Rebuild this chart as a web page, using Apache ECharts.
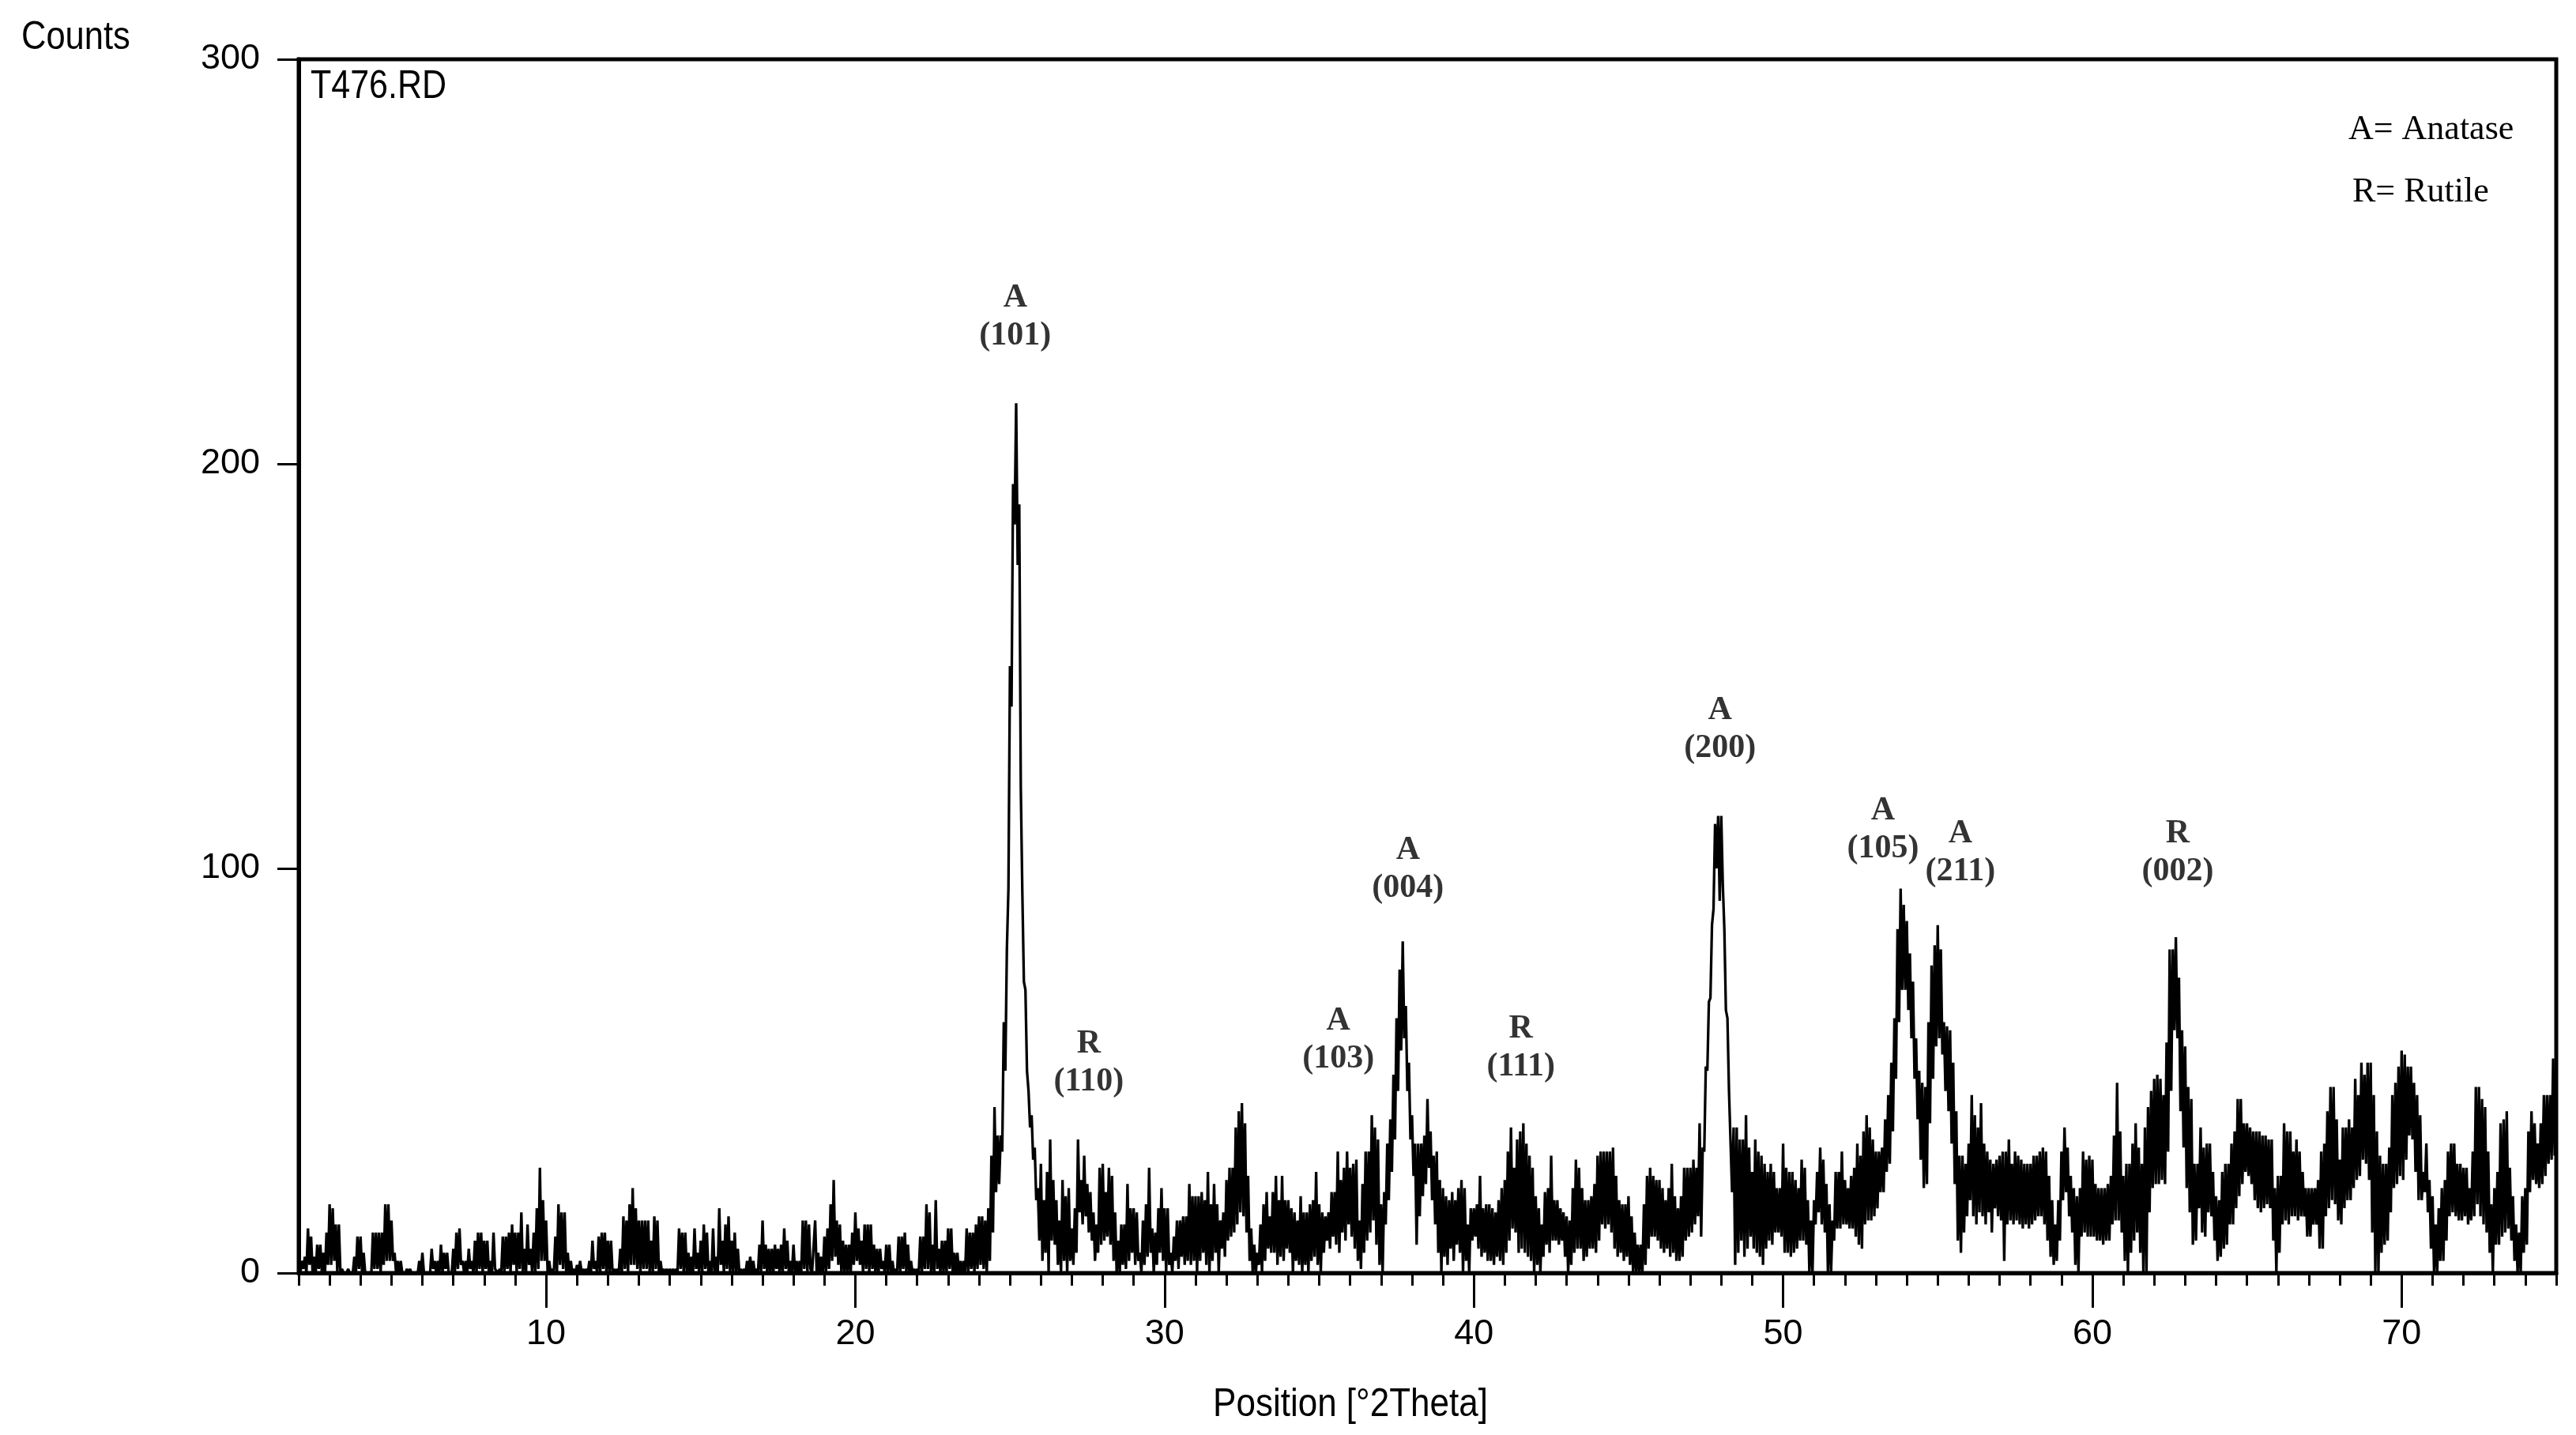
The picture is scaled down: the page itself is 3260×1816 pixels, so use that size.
<!DOCTYPE html>
<html><head><meta charset="utf-8">
<script src="https://cdn.jsdelivr.net/npm/echarts@6/dist/echarts.min.js"></script>
<style>html,body{margin:0;padding:0;background:#fff}#c{width:3260px;height:1816px}</style>
</head><body><div id="c"></div>
<script>
// scan grid (°2Theta)
const thetaStart = 2.0;
const thetaStep = 0.1;
// local maxima of the noisy trace, one per 0.1° from 2.0 to 75.0
const countsPeak = [
3,3,4,11,9,4,7,7,5,10,
17,16,12,12,1,0,1,0,4,9,
9,5,0,0,10,10,10,10,17,17,
13,5,3,3,0,1,1,0,0,3,
5,0,0,6,3,3,7,5,5,0,
6,10,11,3,3,6,3,8,10,10,
8,8,3,10,1,1,9,9,10,12,
10,10,15,6,12,6,10,16,26,18,
13,3,1,9,17,15,15,5,3,1,
2,3,1,1,3,8,3,9,10,10,
8,8,1,1,6,14,13,17,21,16,
13,13,13,13,8,14,13,3,1,1,
1,1,1,11,10,10,5,4,11,5,
8,12,10,3,11,4,16,8,12,14,
8,10,6,1,1,3,4,3,1,7,
13,7,6,6,7,6,7,11,8,3,
7,3,3,13,13,12,0,13,5,4,
9,11,17,23,13,12,8,7,7,10,
15,11,8,12,12,12,7,6,6,3,
7,7,3,1,9,9,10,7,3,1,
1,9,9,17,15,7,18,6,8,8,
11,11,5,5,3,3,11,10,10,12,
14,14,13,16,29,41,34,34,62,80,
150,195,215,190,94,70,45,39,31,21,
27,18,25,33,23,18,13,23,19,21,
11,16,33,23,29,22,20,15,12,26,
27,20,26,24,15,8,12,12,22,16,
16,15,5,13,17,26,11,10,16,21,
16,16,5,9,13,13,14,14,22,19,
19,19,20,18,25,17,22,17,13,15,
23,26,26,36,40,42,37,24,11,7,
5,12,17,20,14,20,24,18,24,18,
18,16,15,13,19,15,15,17,18,25,
17,15,14,15,20,20,30,23,26,30,
26,27,28,13,22,30,30,39,36,33,
17,20,32,38,49,63,75,82,66,52,
39,32,32,32,34,43,35,29,30,23,
21,19,18,20,18,21,23,21,12,16,
16,17,24,16,17,17,16,15,18,21,
23,30,36,26,33,35,37,32,29,26,
19,16,12,20,21,29,18,18,16,15,
14,13,21,28,26,21,18,18,19,22,
29,30,30,30,30,31,24,18,17,17,
19,14,10,7,7,17,24,26,24,23,
23,21,18,21,27,19,16,19,26,26,
26,28,26,37,31,51,67,86,111,113,
113,85,63,45,36,36,33,33,39,31,
25,33,30,29,27,25,27,25,21,21,
32,26,25,25,23,21,28,26,18,13,
18,25,31,28,22,17,13,25,25,30,
23,21,24,26,32,29,35,39,36,33,
30,30,31,38,44,52,63,85,95,91,
87,79,72,58,50,47,46,62,76,81,
86,80,62,61,60,52,40,29,29,27,
32,44,39,36,42,32,30,28,27,28,
29,30,30,33,27,30,29,28,27,27,
27,29,29,30,31,30,24,18,12,18,
30,36,31,24,21,19,21,30,28,29,
28,22,21,21,21,22,24,34,47,35,
24,27,27,32,37,31,27,36,41,45,
48,49,48,44,57,80,80,83,73,60,
56,46,43,27,27,36,31,32,32,25,
19,18,25,27,27,32,35,43,43,37,
37,36,35,35,35,34,34,33,33,21,
24,24,37,35,35,30,33,30,25,21,
21,21,21,23,30,32,40,46,46,38,
28,36,36,38,36,48,44,52,49,52,
52,44,35,29,27,27,31,44,47,51,
55,54,51,51,47,44,39,25,32,23,
19,12,16,21,23,30,32,32,27,27,
26,26,21,30,46,46,43,41,30,17,
21,25,37,38,40,26,19,12,10,19,
21,35,40,37,32,37,44,44,44,53,
53];
// local minima of the trace, one between each pair of maxima (2.05 ... 74.95)
const countsDip = [
0,1,0,2,0,0,1,0,0,2,
2,3,0,0,0,0,0,0,0,1,
0,0,0,0,1,1,0,2,3,3,
3,0,0,0,0,0,0,0,0,0,
0,0,0,1,0,0,0,1,0,0,
0,1,2,0,0,1,0,0,1,0,
1,0,0,1,0,0,0,1,0,2,
0,1,0,0,2,0,0,1,3,3,
0,0,0,0,2,1,0,0,0,0,
0,0,0,0,0,1,0,0,1,0,
0,0,0,0,0,1,0,2,2,1,
0,1,1,0,0,1,0,0,0,0,
0,0,0,1,0,0,0,0,1,0,
0,1,0,0,0,0,2,0,1,0,
0,0,0,0,0,0,0,0,0,0,
1,0,0,0,1,0,0,1,0,0,
0,0,0,1,0,1,0,0,0,0,
0,1,3,4,2,0,0,0,0,2,
3,2,0,1,0,1,0,0,1,0,
0,0,0,0,0,1,0,0,0,0,
0,0,1,1,0,0,1,0,0,0,
1,0,0,0,0,0,0,1,0,1,
2,1,0,3,10,20,22,30,50,95,
140,185,175,120,72,50,36,28,18,8,
3,5,0,8,7,2,0,3,0,3,
2,5,15,12,14,10,8,3,5,7,
8,9,7,3,0,0,2,1,3,5,
2,3,0,2,4,5,0,2,5,3,
0,2,0,3,1,4,2,3,2,3,
0,3,5,2,0,3,5,0,6,4,
8,9,10,12,15,14,10,3,0,0,
2,0,3,6,5,5,2,4,3,6,
5,0,3,2,0,2,0,3,4,2,
0,5,8,6,9,7,5,10,8,12,
9,6,3,1,5,8,10,13,7,2,
0,12,18,25,33,45,55,58,45,33,
24,7,14,19,22,26,18,12,5,0,
4,2,6,3,7,5,0,3,0,8,
9,6,4,5,3,3,2,4,3,2,
5,8,11,10,5,6,5,4,3,0,
2,0,4,7,5,8,8,7,8,4,
0,2,5,6,6,3,4,6,6,5,
8,12,11,12,10,6,4,5,3,4,
2,0,0,0,0,2,6,9,9,8,
6,5,6,4,5,3,3,4,8,9,
10,12,14,9,30,50,68,90,100,92,
96,65,45,20,2,5,8,4,6,9,
6,5,4,2,6,8,7,10,10,9,
5,5,4,5,6,8,8,7,0,0,
12,15,12,10,0,0,8,11,11,12,
12,11,11,9,7,6,12,13,13,14,
16,20,20,25,27,35,48,62,70,70,
65,58,48,38,28,21,22,37,48,56,
58,54,45,40,32,22,8,5,10,14,
18,14,12,15,14,12,15,10,16,14,
13,3,12,13,12,13,12,11,12,11,
12,13,14,14,12,8,4,2,3,8,
18,20,14,10,2,0,9,10,9,9,
9,8,8,7,8,8,12,13,13,10,
3,0,5,8,10,5,0,0,15,21,
22,22,23,22,30,45,60,58,40,31,
21,15,7,8,16,10,9,15,14,8,
3,4,6,7,12,12,16,19,22,25,
24,22,18,16,15,16,17,16,8,0,
5,12,13,12,14,14,13,14,14,9,
9,12,12,6,6,14,16,18,17,13,
12,16,18,18,21,23,24,28,27,23,
10,0,0,5,7,8,15,21,22,24,
23,28,34,33,25,18,18,20,15,6,
0,0,3,3,8,14,15,14,13,13,
14,12,13,14,17,14,12,10,5,0,
7,7,9,10,11,8,3,0,0,5,
7,20,23,22,21,22,24,27,28,29];

// axis ticks / labels
const xMajorTicks = [10,20,30,40,50,60,70];
const xMinorTicks = [2,3,4,5,6,7,8,9,10,11,12,13,14,15,16,17,18,19,20,21,22,23,24,25,26,27,28,29,30,31,32,33,34,35,36,37,38,39,40,41,42,43,44,45,46,47,48,49,50,51,52,53,54,55,56,57,58,59,60,61,62,63,64,65,66,67,68,69,70,71,72,73,74,75];
const yTicks = [0,100,200,300];

// peak annotations (position in 2Theta / Counts, phase letter, Miller index)
const annoTheta = [25.17, 27.55, 35.62, 37.87, 41.52, 47.96, 53.23, 55.73, 62.76];
const annoCounts = [236.2, 51.9, 57.6, 99.8, 55.6, 134.4, 109.6, 103.9, 103.9];
const annoPhase = ['A','R','A','A','R','A','A','A','R'];
const annoHkl = ['(101)','(110)','(103)','(004)','(111)','(200)','(105)','(211)','(002)'];

const FONT_SANS = "'Liberation Sans',Arial,sans-serif";
const FONT_SERIF = "'Liberation Serif','DejaVu Serif',serif";

const trace = [];
for (let i = 0; i < countsPeak.length; i++) {
  trace.push([+(thetaStart + i * thetaStep).toFixed(2), countsPeak[i]]);
  if (i < countsDip.length) trace.push([+(thetaStart + (i + 0.5) * thetaStep).toFixed(2), countsDip[i]]);
}
const annoData = annoTheta.map((t, i) => ({ value: [t, annoCounts[i]], phase: annoPhase[i], hkl: annoHkl[i] }));

const chart = echarts.init(document.getElementById('c'), null, { renderer: 'canvas' });
chart.setOption({
  animation: false,
  backgroundColor: '#ffffff',
  grid: { left: 378, right: 25, top: 75, bottom: 205, show: true, borderColor: '#000', borderWidth: 5, backgroundColor: 'transparent' },
  xAxis: [{
    type: 'value', min: 2, max: 75, position: 'bottom',
    axisLine: { show: true, onZero: false, lineStyle: { color: '#000', width: 5 } },
    axisTick: { show: true, customValues: xMajorTicks, length: 44, lineStyle: { color: '#000', width: 3 } },
    axisLabel: { show: true, customValues: xMajorTicks, margin: 55, fontSize: 45, fontFamily: FONT_SANS, color: '#000' },
    splitLine: { show: false }
  }, {
    type: 'value', min: 2, max: 75, position: 'bottom',
    axisLine: { show: false },
    axisTick: { show: true, customValues: xMinorTicks, length: 16, lineStyle: { color: '#000', width: 3 } },
    axisLabel: { show: false },
    splitLine: { show: false }
  }],
  yAxis: {
    type: 'value', min: 0, max: 300, interval: 100,
    axisLine: { show: true, onZero: false, lineStyle: { color: '#000', width: 5 } },
    axisTick: { show: true, length: 27, lineStyle: { color: '#000', width: 3 } },
    axisLabel: { margin: 49, fontSize: 45, fontFamily: FONT_SANS, color: '#000',
      formatter: v => (yTicks.indexOf(v) >= 0 ? String(v) : '') },
    splitLine: { show: false }
  },
  series: [{
    type: 'line', xAxisIndex: 0, data: trace, showSymbol: false, symbol: 'none',
    sampling: null, lineStyle: { color: '#000', width: 3.3 }, z: 3, silent: true
  }, {
    type: 'scatter', xAxisIndex: 0, data: annoData, symbolSize: 1, silent: true, z: 5,
    itemStyle: { color: 'rgba(0,0,0,0)' },
    label: {
      show: true, position: 'inside',
      formatter: p => '{t|' + p.data.phase + '}\n{t|' + p.data.hkl + '}',
      rich: { t: { fontFamily: FONT_SERIF, fontWeight: 'bold', fontSize: 42, lineHeight: 48, color: '#000', align: 'center' } }
    }
  }],
  graphic: [
    { type: 'text', x: 27, y: 23, scaleX: 0.87, style: { text: 'Counts', font: '50px ' + FONT_SANS, fill: '#000', textAlign: 'left', textVerticalAlign: 'top' } },
    { type: 'text', x: 393, y: 85, scaleX: 0.86, style: { text: 'T476.RD', font: '50px ' + FONT_SANS, fill: '#000', textAlign: 'left', textVerticalAlign: 'top' } },
    { type: 'text', x: 1709, y: 1753, scaleX: 0.88, style: { text: 'Position [°2Theta]', font: '50px ' + FONT_SANS, fill: '#000', textAlign: 'center', textVerticalAlign: 'top' } },
    { type: 'text', x: 2972, y: 142, style: { text: 'A= Anatase', font: '44px ' + FONT_SERIF, fill: '#000', textAlign: 'left', textVerticalAlign: 'top' } },
    { type: 'text', x: 2977, y: 221, style: { text: 'R= Rutile', font: '44px ' + FONT_SERIF, fill: '#000', textAlign: 'left', textVerticalAlign: 'top' } }
  ]
});
</script>
</body></html>
